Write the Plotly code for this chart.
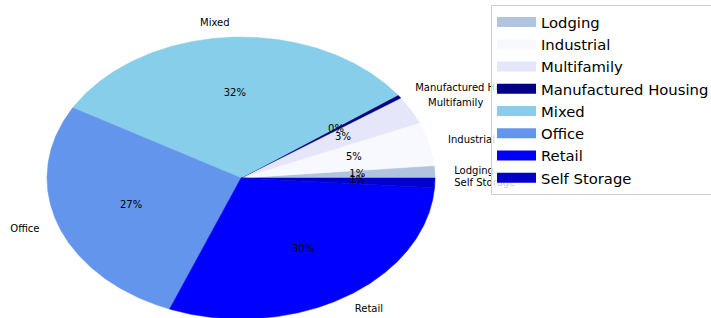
import numpy as np
import plotly.graph_objects as go

categories = ["Lodging", "Industrial", "Multifamily", "Manufactured Housing",
              "Mixed", "Office", "Retail", "Self Storage"]
shares = [1.4, 5.0, 3.2, 0.4, 31.7, 27.3, 29.9, 1.1]
colors = ["#B0C4DE", "#F8F8FF", "#E6E6FA", "#000080",
          "#87CEEB", "#6495ED", "#0000FF", "#0000CD"]

W, H = 711, 318
# pixel geometry of the (stretched) pie
cx, cy, rx, ry = 241, 178, 194, 141

vals = np.array(shares, dtype=float)
frac = vals / vals.sum()
bounds = np.concatenate([[0.0], np.cumsum(frac)]) * 360.0

fig = go.Figure()
lab_x, lab_y, lab_t, lab_pos = [], [], [], []
pct_x, pct_y, pct_t = [], [], []
for i, name in enumerate(categories):
    a0, a1 = bounds[i], bounds[i + 1]
    n = max(4, int((a1 - a0) * 2))
    th = np.radians(np.linspace(a0, a1, n))
    xs = np.concatenate([[0], np.cos(th), [0]])
    ys = np.concatenate([[0], np.sin(th), [0]])
    fig.add_trace(go.Scatter(
        x=xs, y=ys, mode="lines", fill="toself", fillcolor=colors[i],
        line=dict(color=colors[i], width=0.5), name=name,
        hoverinfo="skip", showlegend=False))
    mid = np.radians((a0 + a1) / 2)
    lx, ly = 1.1 * np.cos(mid), 1.1 * np.sin(mid)
    lab_x.append(lx); lab_y.append(ly); lab_t.append(name)
    lab_pos.append("middle right" if lx > 0 else "middle left")
    pct_x.append(0.6 * np.cos(mid)); pct_y.append(0.6 * np.sin(mid))
    pct_t.append("%.0f%%" % (frac[i] * 100))

fig.add_trace(go.Scatter(x=lab_x, y=lab_y, text=lab_t, mode="text",
                         textposition=lab_pos, showlegend=False, hoverinfo="skip",
                         textfont=dict(family="DejaVu Sans", size=10, color="#000")))
fig.add_trace(go.Scatter(x=pct_x, y=pct_y, text=pct_t, mode="text",
                         textposition="middle center", showlegend=False, hoverinfo="skip",
                         textfont=dict(family="DejaVu Sans", size=10, color="#000")))

# legend-only entries (swatches)
for i, name in enumerate(categories):
    fig.add_trace(go.Scatter(x=[None], y=[None], mode="lines", name=name,
                             line=dict(color=colors[i], width=10), showlegend=True))

x0 = -(cx / rx)
x1 = (W - cx) / rx
y1 = cy / ry
y0 = -(H - cy) / ry

fig.update_layout(
    width=W, height=H, margin=dict(l=0, r=0, t=0, b=0, autoexpand=False),
    paper_bgcolor="white", plot_bgcolor="white",
    xaxis=dict(range=[x0, x1], visible=False, fixedrange=True),
    yaxis=dict(range=[y0, y1], visible=False, fixedrange=True),
    legend=dict(x=491 / W, y=1 - 5 / H, xanchor="left", yanchor="top",
                bgcolor="rgba(255,255,255,0.8)", bordercolor="#d0d0d0", borderwidth=1,
                font=dict(family="DejaVu Sans", size=14.8, color="#000"),
                itemwidth=39, traceorder="normal"),
    showlegend=True,
)
fig.write_html("out.html", config={"displayModeBar": False},
               post_script="document.body.style.margin='0';")
